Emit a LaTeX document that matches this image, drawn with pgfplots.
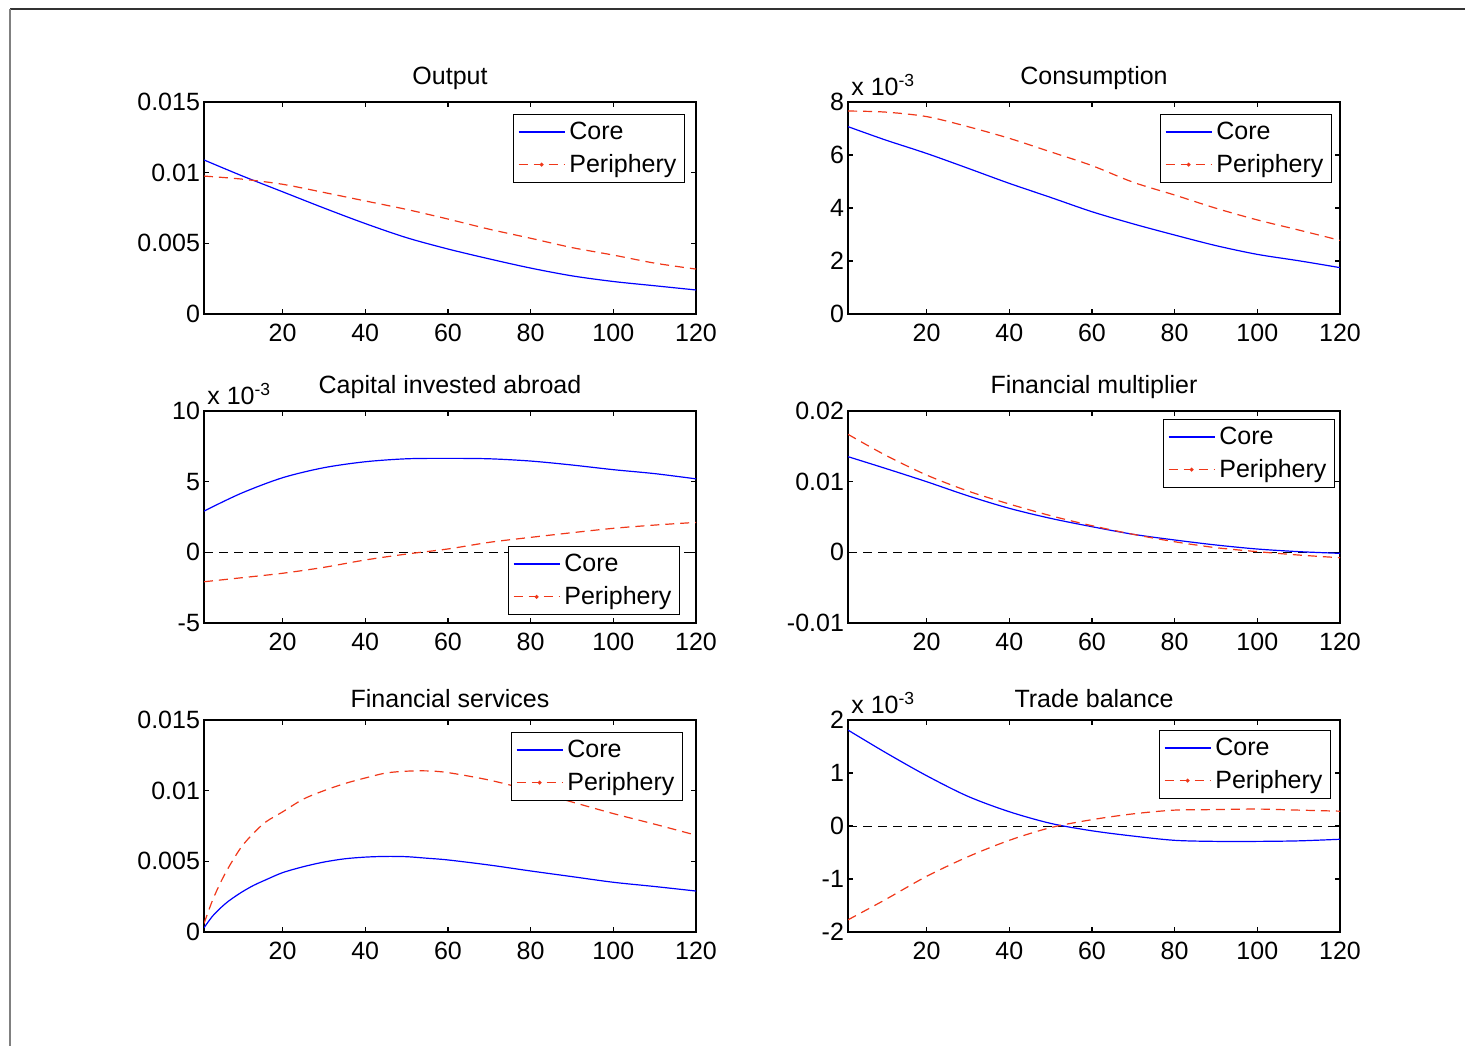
\documentclass[border=0pt]{standalone}
\usepackage{fontspec}
\setmainfont{Liberation Sans}
\usepackage{pgfplots}
\pgfplotsset{compat=1.18}

\definecolor{corecol}{RGB}{0,0,255}
\definecolor{pericol}{RGB}{240,55,25}
\newcommand\lab{\fontsize{12.5}{15}\selectfont}

\pgfplotsset{
  panel/.style={
    scale only axis, width=246pt, height=106pt,
    xmin=1, xmax=120,
    xtick={20,40,60,80,100,120}, xticklabels={20,40,60,80,100,120},
    scaled y ticks=false,
    tick align=inside, major tick length=2.5pt,
    axis line style={line width=0.7pt},
    every tick/.style={black, line width=0.6pt},
    tick label style={font=\lab},
    xticklabel style={yshift=-1.5pt},
    yticklabel style={xshift=1.5pt},
    title style={font=\lab, yshift=-3.5pt},
    legend cell align=left,
    legend style={draw=black, line width=0.6pt, fill=white, font=\lab,
      at={(1,1)}, anchor=north east, xshift=-5.5pt, yshift=-6pt,
      inner xsep=2pt, inner ysep=1.5pt, row sep=2pt},
  },
  core/.style={corecol, line width=0.6pt, smooth},
  peri/.style={pericol, line width=0.6pt, smooth, dash pattern=on 4.5pt off 3pt},
  zero/.style={black, line width=0.5pt, dash pattern=on 4.5pt off 3pt},
  coreleg/.style={legend image code/.code={%
    \draw[draw=corecol, line width=0.8pt, solid] (0pt,0pt) -- (23pt,0pt);}},
  perileg/.style={legend image code/.code={%
    \draw[draw=pericol, line width=0.6pt, dash pattern=on 4.5pt off 3pt] (0pt,0pt) -- (23pt,0pt);
    \draw[draw=pericol, line width=0.9pt, solid] (11.5pt,0pt) circle (0.45pt);}},
  exp3/.style={after end axis/.code={
    \node[anchor=south west, font=\lab, inner sep=0pt] at ([xshift=1.5pt,yshift=3pt]rel axis cs:0,1) {x 10\textsuperscript{-3}};}},
}
\newcommand\coreperileg{%
  \addlegendimage{coreleg}\addlegendentry{Core}
  \addlegendimage{perileg}\addlegendentry{Periphery}}

\begin{document}
\begin{tikzpicture}
\useasboundingbox (0pt,0pt) rectangle (732.5pt,-523pt);
\draw[black!80, line width=0.8pt] (5pt,-4.5pt) -- (732.5pt,-4.5pt);
\draw[black!50, line width=0.8pt] (5pt,-4.5pt) -- (5pt,-523pt);

% Output
\begin{axis}[panel, at={(102pt,-51pt)}, anchor=north west, title={Output},
  ymin=0, ymax=0.015, ytick={0,0.005,0.01,0.015}, yticklabels={0,0.005,0.01,0.015}]
\addplot[core, forget plot] coordinates {(1,0.0109) (10,0.0098) (20,0.00865) (30,0.0075) (40,0.0064) (50,0.0054) (60,0.0046) (70,0.0039) (80,0.00325) (90,0.0027) (100,0.0023) (110,0.0020) (120,0.0017)};
\addplot[peri, forget plot] coordinates {(1,0.00976) (10,0.00955) (20,0.00918) (30,0.0086) (40,0.0080) (50,0.0074) (60,0.00672) (70,0.0060) (80,0.00536) (90,0.0047) (100,0.00417) (110,0.0036) (120,0.00318)};
\coreperileg
\end{axis}

% Consumption
\begin{axis}[panel, exp3, at={(424pt,-51pt)}, anchor=north west, title={Consumption},
  ymin=0, ymax=8, ytick={0,2,4,6,8}, yticklabels={0,2,4,6,8},
  legend style={xshift=1.5pt}]
\addplot[core, forget plot] coordinates {(1,7.07) (10,6.57) (20,6.06) (30,5.5) (40,4.93) (50,4.4) (60,3.86) (70,3.4) (80,2.98) (90,2.58) (100,2.25) (110,2.01) (120,1.75)};
\addplot[peri, forget plot] coordinates {(1,7.66) (10,7.62) (20,7.45) (30,7.07) (40,6.63) (50,6.12) (60,5.6) (70,4.97) (80,4.49) (90,3.99) (100,3.55) (110,3.17) (120,2.78)};
\coreperileg
\end{axis}

% Capital invested abroad
\begin{axis}[panel, exp3, at={(102pt,-205.5pt)}, anchor=north west, title={Capital invested abroad},
  ymin=-5, ymax=10, ytick={-5,0,5,10}, yticklabels={-5,0,5,10},
  legend style={at={(1,0)}, anchor=south east, xshift=-2.5pt, yshift=10pt}]
\addplot[zero, forget plot] coordinates {(1,0) (120,0)};
\addplot[core, forget plot] coordinates {(1,2.92) (10,4.18) (20,5.28) (30,5.99) (40,6.41) (50,6.62) (60,6.65) (70,6.62) (80,6.46) (90,6.18) (100,5.85) (110,5.57) (120,5.2)};
\addplot[peri, forget plot] coordinates {(1,-2.08) (10,-1.8) (20,-1.48) (30,-1.06) (40,-0.54) (50,-0.12) (60,0.24) (70,0.71) (80,1.06) (90,1.39) (100,1.7) (110,1.93) (120,2.12)};
\coreperileg
\end{axis}

% Financial multiplier
\begin{axis}[panel, at={(424pt,-205.5pt)}, anchor=north west, title={Financial multiplier},
  ymin=-0.01, ymax=0.02, ytick={-0.01,0,0.01,0.02}, yticklabels={-0.01,0,0.01,0.02},
  legend style={xshift=3pt, yshift=2pt}]
\addplot[zero, forget plot] coordinates {(1,0) (120,0)};
\addplot[core, forget plot] coordinates {(1,0.01354) (10,0.01189) (20,0.0100) (30,0.0080) (40,0.00623) (50,0.00481) (60,0.00363) (70,0.00255) (80,0.00175) (90,0.00104) (100,0.00047) (110,0.0001) (120,-0.00014)};
\addplot[peri, forget plot] coordinates {(1,0.0167) (10,0.01377) (20,0.01094) (30,0.00868) (40,0.00684) (50,0.00519) (60,0.00377) (70,0.00255) (80,0.0015) (90,0.00066) (100,0.0001) (110,-0.00038) (120,-0.00076)};
\coreperileg
\end{axis}

% Financial services
\begin{axis}[panel, at={(102pt,-360pt)}, anchor=north west, title={Financial services},
  ymin=0, ymax=0.015, ytick={0,0.005,0.01,0.015}, yticklabels={0,0.005,0.01,0.015},
  legend style={xshift=-1pt}]
\addplot[core, forget plot] coordinates {(1,0.0003) (3,0.0011) (5,0.0017) (7,0.0022) (10,0.0028) (13,0.0033) (16,0.0037) (20,0.0042) (25,0.00462) (30,0.00495) (35,0.00518) (40,0.0053) (45,0.00535) (50,0.00533) (55,0.00522) (60,0.0051) (70,0.00474) (80,0.00432) (90,0.00392) (100,0.00352) (110,0.00322) (120,0.0029)};
\addplot[peri, forget plot] coordinates {(1,0.0006) (3,0.0022) (5,0.0035) (7,0.0046) (10,0.0060) (13,0.0070) (16,0.0078) (20,0.0085) (25,0.0094) (30,0.0100) (35,0.0105) (40,0.0109) (45,0.01125) (50,0.01138) (55,0.0114) (60,0.01128) (70,0.01075) (80,0.01002) (90,0.0092) (100,0.00838) (110,0.00763) (120,0.00685)};
\coreperileg
\end{axis}

% Trade balance
\begin{axis}[panel, exp3, at={(424pt,-360pt)}, anchor=north west, title={Trade balance},
  ymin=-2, ymax=2, ytick={-2,-1,0,1,2}, yticklabels={-2,-1,0,1,2},
  legend style={xshift=1pt, yshift=1pt}]
\addplot[zero, forget plot] coordinates {(1,0) (120,0)};
\addplot[core, forget plot] coordinates {(1,1.81) (10,1.39) (20,0.95) (30,0.56) (40,0.27) (50,0.05) (60,-0.09) (70,-0.19) (80,-0.27) (90,-0.29) (100,-0.29) (110,-0.28) (120,-0.25)};
\addplot[peri, forget plot] coordinates {(1,-1.77) (10,-1.39) (20,-0.95) (30,-0.58) (40,-0.27) (50,-0.03) (60,0.12) (70,0.23) (80,0.30) (90,0.31) (100,0.32) (110,0.30) (120,0.28)};
\coreperileg
\end{axis}
\end{tikzpicture}
\end{document}
